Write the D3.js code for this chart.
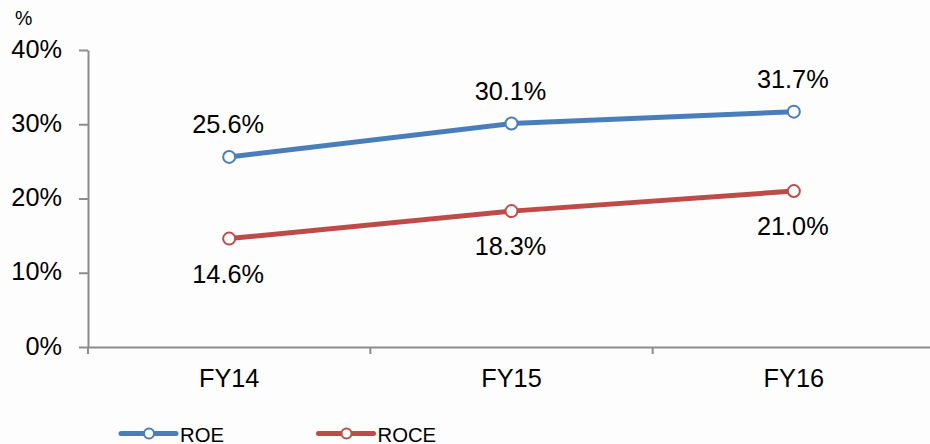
<!DOCTYPE html>
<html>
<head>
<meta charset="utf-8">
<script src="https://cdn.jsdelivr.net/npm/d3@7"></script>
<style>
  html, body { margin: 0; padding: 0; background: #fdfdfd; }
  svg { display: block; font-family: "Liberation Sans", Arial, sans-serif; }
</style>
</head>
<body>
<svg id="chart" width="930" height="444"></svg>
<script>
const categories = ["FY14", "FY15", "FY16"];
const roe = [25.6, 30.1, 31.7];
const roce = [14.6, 18.3, 21.0];
const yTicks = [0, 10, 20, 30, 40];

const series = [
  { name: "ROE", values: roe, color: "#4a7ebb", labelPos: "above" },
  { name: "ROCE", values: roce, color: "#be4b48", labelPos: "below" }
];

const svg = d3.select("#chart");
const plotLeft = 88, plotRight = 935, plotTop = 50, plotBottom = 347;
const fontFamily = "Liberation Sans, Arial, sans-serif";
const labelSize = 25.3;

const x = d3.scaleBand().domain(categories).range([plotLeft, plotRight]);
const y = d3.scaleLinear().domain([0, 40]).range([plotBottom, plotTop]);

const axisColor = "#8c8c8c";

// Y axis
const yAxis = svg.append("g").attr("transform", `translate(${plotLeft},0)`)
  .call(d3.axisLeft(y).tickValues(yTicks).tickFormat(d => d + "%").tickSize(9).tickSizeOuter(0));
yAxis.select(".domain").attr("stroke", axisColor).attr("stroke-width", 2);
yAxis.selectAll(".tick line").attr("stroke", axisColor).attr("stroke-width", 2);
yAxis.selectAll(".tick text").attr("fill", "#000").attr("font-size", labelSize)
  .attr("font-family", fontFamily).attr("x", -26).attr("dy", 7);

// X axis
const xAxis = svg.append("g").attr("transform", `translate(0,${plotBottom})`)
  .call(d3.axisBottom(x).tickSize(0).tickSizeOuter(0));
xAxis.select(".domain").attr("stroke", axisColor).attr("stroke-width", 2);
xAxis.selectAll(".tick text").attr("fill", "#000").attr("font-size", labelSize)
  .attr("font-family", fontFamily).attr("y", 40).attr("dy", 0);
// boundary ticks between categories
const bounds = categories.map(c => x(c)).concat([x(categories[categories.length - 1]) + x.bandwidth()]);
xAxis.selectAll(".btick").data(bounds).enter().append("line")
  .attr("x1", d => d).attr("x2", d => d).attr("y1", 0).attr("y2", 7)
  .attr("stroke", axisColor).attr("stroke-width", 2);

// unit label
svg.append("text").attr("x", 15).attr("y", 25).attr("font-size", 19.5).text("%");

const cx = c => x(c) + x.bandwidth() / 2;
const line = d3.line().x((d, i) => cx(categories[i])).y(d => y(d));

series.forEach(s => {
  const g = svg.append("g");
  g.append("path").datum(s.values).attr("d", line)
    .attr("fill", "none").attr("stroke", s.color).attr("stroke-width", 5).attr("stroke-linecap", "round");
  g.selectAll("circle").data(s.values).enter().append("circle")
    .attr("cx", (d, i) => cx(categories[i])).attr("cy", d => y(d)).attr("r", 6)
    .attr("fill", "#fff").attr("stroke", s.color).attr("stroke-width", 2);
  g.selectAll("text").data(s.values).enter().append("text")
    .attr("x", (d, i) => cx(categories[i]) - 1)
    .attr("y", d => s.labelPos === "above" ? y(d) - 24 : y(d) + 44)
    .attr("text-anchor", "middle").attr("font-size", labelSize).attr("fill", "#000")
    .text(d => d.toFixed(1) + "%");
});

// legend
const legendItems = [{ s: series[0], x0: 121 }, { s: series[1], x0: 318.5 }];
legendItems.forEach(({ s, x0 }) => {
  const ly = 433.5;
  const g = svg.append("g");
  g.append("line").attr("x1", x0).attr("x2", x0 + 55).attr("y1", ly).attr("y2", ly)
    .attr("stroke", s.color).attr("stroke-width", 5).attr("stroke-linecap", "round");
  g.append("circle").attr("cx", x0 + 28).attr("cy", ly).attr("r", 5)
    .attr("fill", "#fff").attr("stroke", s.color).attr("stroke-width", 2);
  g.append("text").attr("x", x0 + 59).attr("y", ly + 8).attr("font-size", 20.3).attr("fill", "#000").text(s.name);
});
</script>
</body>
</html>
